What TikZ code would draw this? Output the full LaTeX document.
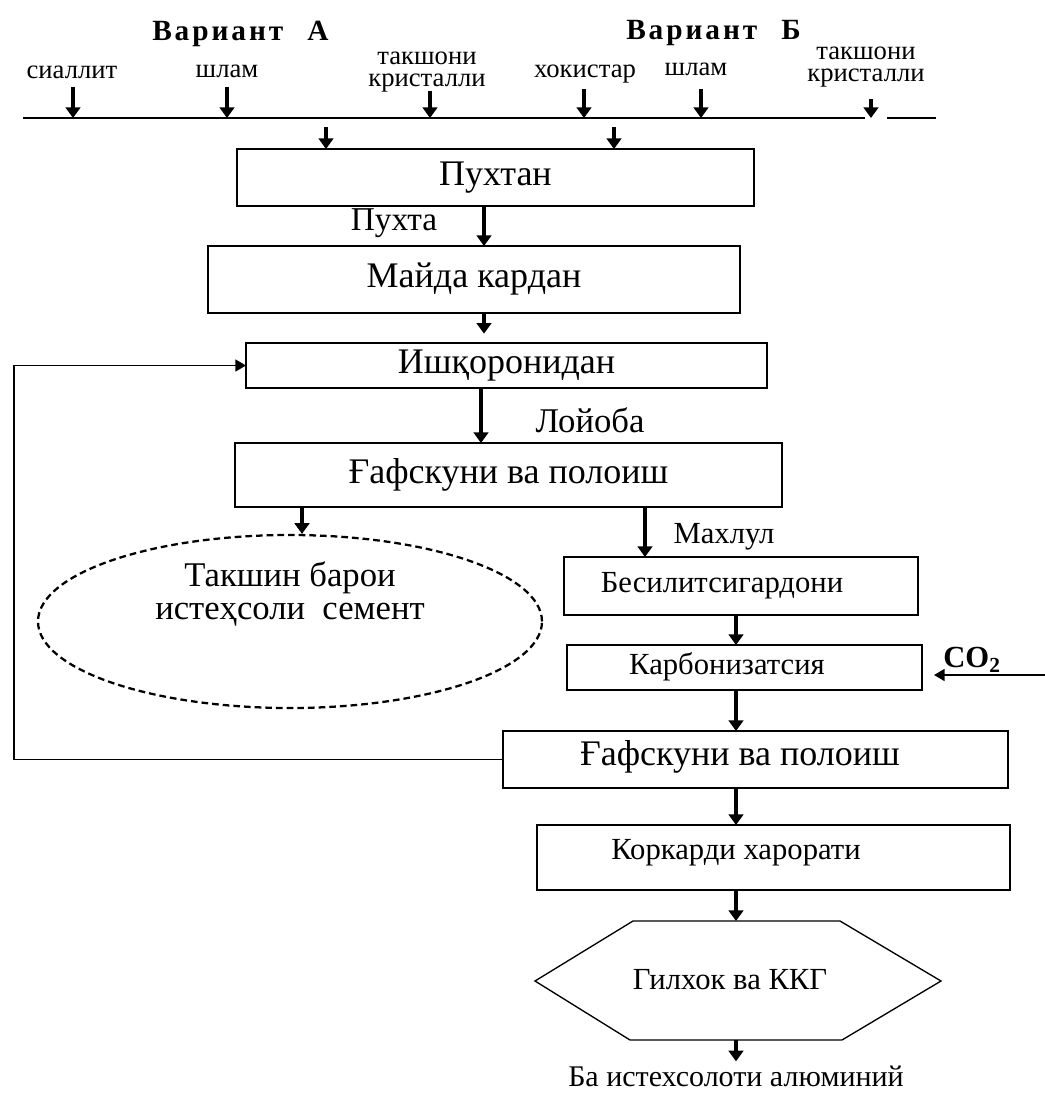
\documentclass[tikz,border=0pt]{standalone}
\usepackage{fontspec}
\setmainfont{Liberation Serif}
\usetikzlibrary{arrows.meta,shapes.geometric}
\begin{document}
\begin{tikzpicture}[x=0.75pt,y=-0.75pt,
  box/.style={draw,line width=1pt,inner sep=0pt,outer sep=0pt},
  sz/.style 2 args={minimum width=#1*0.75pt,minimum height=#2*0.75pt},
  arr/.style={line width=2.3pt,-{Triangle[width=11pt,length=8pt]}},
  thinarr/.style={line width=1.3pt,-{Triangle[width=9pt,length=8pt]}},
  big/.style={font=\fontsize{27}{30}\selectfont,inner sep=0pt},
  mid/.style={font=\fontsize{23}{26}\selectfont,inner sep=0pt},
  lab/.style={font=\fontsize{20}{17}\selectfont,align=center,inner sep=0pt},
  var/.style={font=\fontsize{22}{24}\selectfont\bfseries\addfontfeature{LetterSpace=10},inner sep=0pt,anchor=base west}]
\useasboundingbox (0,0) rectangle (1045,1093);

% column helpers
\coordinate (c484) at (484,0);
\coordinate (c481) at (481,0);
\coordinate (c302) at (302,0);
\coordinate (c645) at (645,0);
\coordinate (c736) at (736,0);
\coordinate (c326) at (326,0);
\coordinate (c614) at (614,0);

% headings
\node[var] (va) at (152,40) {Вариант\hspace{18pt}А};
\node[var] (vb) at (626,39) {Вариант\hspace{18pt}Б};

% input labels
\node[lab,anchor=base] (s1) at (72,78) {сиаллит};
\node[lab,anchor=base] (s2) at (227,77) {шлам};
\node[lab] (s3) at (427,72) {такшони\\кристалли};
\node[lab,anchor=base] (s4) at (585,77) {хокистар};
\node[lab,anchor=base] (s5) at (696,75) {шлам};
\node[lab] (s6) at (866,67) {такшони\\кристалли};

% feed line
\coordinate (la) at (23,118);
\coordinate (lb) at (865,118);
\coordinate (lc) at (887,118);
\coordinate (ld) at (936,118);
\draw[line width=1.2pt] (la) -- (lb) (lc) -- (ld);

\foreach \x/\t in {73/87,227/87,430/91,584/89,701/89,871/99}{
  \coordinate (t\x) at (\x,\t);
  \coordinate (b\x) at (\x,118);
  \draw[arr] (t\x) -- (b\x);
}

% boxes
\node[box,sz={517}{57},big] (puxtan) at (495.5,177.5) {Пухтан};
\node[box,sz={532}{67},big] (majda) at (474,279.5) {Майда кардан};
\node[box,sz={521}{45},big] (ishq) at (506.5,365.5) {Ишқоронидан};
\node[box,sz={547}{64},big] (gaf1) at (508.5,475) {Ғафскуни ва полоиш};

\node[draw,ellipse,line width=1.7pt,dash pattern=on 5pt off 3pt,inner sep=0pt,sz={504}{173}] (ell) at (290,621.5) {};
\node[font=\fontsize{26}{25}\selectfont,align=center,inner sep=0pt] (elltxt) at (290,594) {Такшин барои\\истеҳсоли\ \ семент};

\node[box,sz={354}{58}] (bes) at (741,586) {};
\node[mid] (bestxt) at (722,586) {Бесилитсигардони};
\node[box,sz={355}{45}] (carb) at (744.5,667.5) {};
\node[mid] (carbtxt) at (727,667) {Карбонизатсия};
\node[box,sz={505}{57}] (gaf2) at (755.5,759.5) {};
\node[big] (gaf2txt) at (740,757) {Ғафскуни ва полоиш};
\node[box,sz={473}{65}] (kork) at (773.5,857.5) {};
\node[mid] (korktxt) at (736,853) {Коркарди харорати};

% hexagon
\draw[line width=1pt] (535,981) -- (633,921) -- (840,921) -- (941,981) -- (842,1040) -- (630,1040) -- cycle;
\coordinate (hextop) at (736,921);
\coordinate (hexbot) at (736,1040);
\node[font=\fontsize{23}{26}\selectfont,inner sep=0pt] (hex) at (730,980) {Гилхок ва ККГ};

\node[font=\fontsize{22.5}{26}\selectfont,inner sep=0pt] (out) at (736,1076) {Ба истехсолоти алюминий};

% CO2
\node[font=\fontsize{23}{26}\selectfont\bfseries,inner sep=0pt] (co2) at (972,660) {CO\textsubscript{2}};
\coordinate (co2in) at (1045,675);

% arrows into Пухтан
\coordinate (p1) at (326,127);
\coordinate (p2) at (614,127);
\draw[arr] (p1) -- (puxtan.north -| c326);
\draw[arr] (p2) -- (puxtan.north -| c614);

% main flow
\draw[arr] (puxtan.south -| c484) -- (majda.north -| c484);
\node[font=\fontsize{25}{28}\selectfont,inner sep=0pt] (puxta) at (394,223) {Пухта};
\draw[arr,shorten >=7pt] (majda.south -| c484) -- (ishq.north -| c484);
\draw[arr] (ishq.south -| c481) -- (gaf1.north -| c481);
\node[font=\fontsize{26}{28}\selectfont,inner sep=0pt] (lojoba) at (590,420) {Лойоба};
\draw[arr] (gaf1.south -| c302) -- (ell.north -| c302);
\draw[arr] (gaf1.south -| c645) -- (bes.north -| c645);
\node[mid] (maxlul) at (724,537) {Махлул};
\draw[arr] (bes.south -| c736) -- (carb.north -| c736);
\draw[arr] (carb.south -| c736) -- (gaf2.north -| c736);
\draw[arr] (gaf2.south -| c736) -- (kork.north -| c736);
\draw[arr] (kork.south -| c736) -- (hextop);
\draw[arr,shorten >=3pt] (hexbot) -- (out.north);

\draw[thinarr,shorten >=9pt] (co2in) -- (carb.east |- co2in);
\draw[thinarr] (gaf2.west) -- ++(-489,0) |- (ishq.west);
\end{tikzpicture}
\end{document}
